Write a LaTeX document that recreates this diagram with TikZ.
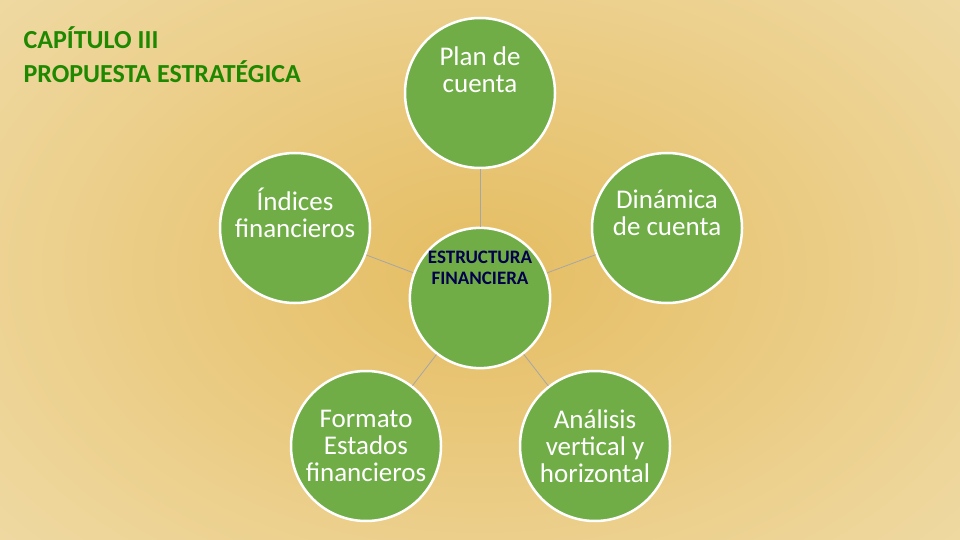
\documentclass[tikz,border=0pt]{standalone}
\usepackage{fontspec}
\setmainfont{Carlito}
\begin{document}
\begin{tikzpicture}[x=1pt,y=-1pt,
  circ/.style={circle,fill=cgreen,draw=white,line width=2.5pt,minimum size=150pt,inner sep=0pt,align=center,text=white,font=\fontsize{27}{27}\selectfont},
  conn/.style={draw=gray!70,line width=0.8pt}]
\definecolor{cgreen}{HTML}{70AD47}
\definecolor{bgA}{HTML}{E5BD62}
\definecolor{bgB}{HTML}{EFD9A2}
\useasboundingbox (0,0) rectangle (960,540);
\begin{scope}
\clip (0,0) rectangle (960,540);
\fill[overlay,inner color=bgA,outer color=bgB] (-150,-150) rectangle (1110,690);
\end{scope}
\node[circ] (p) at (480,93) {Plan de\\cuenta\\[20pt]};
\node[circ] (d) at (667,228) {Dinámica\\de cuenta\\[4pt]};
\node[circ] (i) at (295,228) {Índices\\financieros\\[4pt]};
\node[circ] (f) at (366,446) {Formato\\Estados\\financieros};
\node[circ] (a) at (595,446) {Análisis\\vertical y\\horizontal};
\node[circ,minimum size=136pt,text=blue!30!black,font=\bfseries\fontsize{19}{21}\selectfont] (c) at (480,298) {ESTRUCTURA\\FINANCIERA\\[40pt]};
\foreach \n in {p,d,i,f,a} \draw[conn] (c) -- (\n);
\node[anchor=west,text=green!45!black!85!lime,font=\bfseries\fontsize{26}{34}\selectfont,align=left] (t) at (20,55) {CAPÍTULO III\\PROPUESTA ESTRATÉGICA};
\end{tikzpicture}
\end{document}
